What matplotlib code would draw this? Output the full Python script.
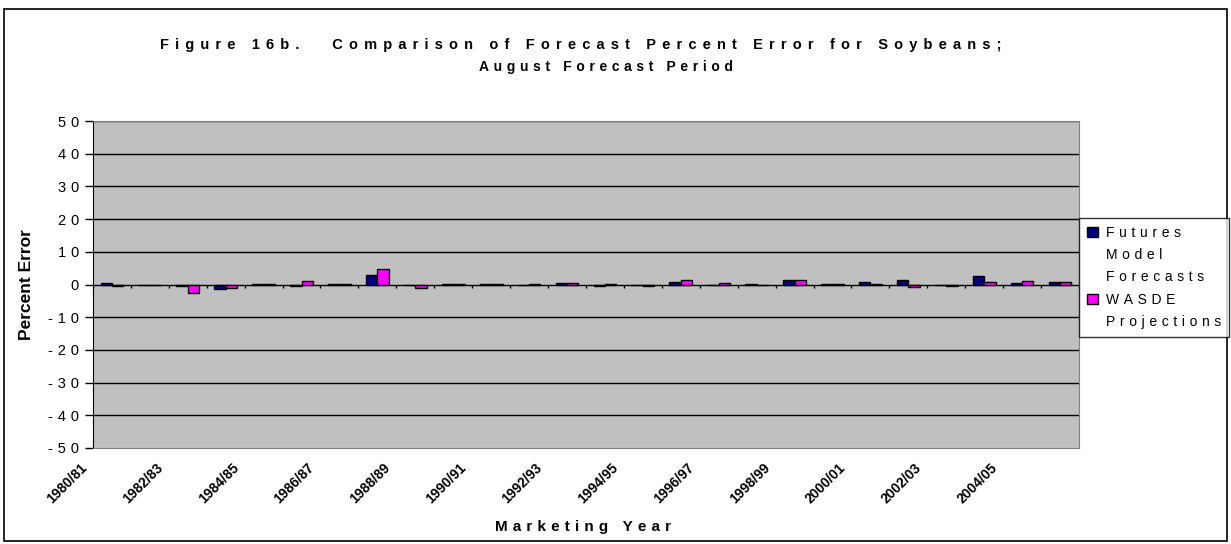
import matplotlib.pyplot as plt
from matplotlib.patches import Rectangle, Patch
from matplotlib.transforms import ScaledTranslation
import numpy as np

plt.rcParams['font.family'] = ['Liberation Sans', 'DejaVu Sans']

years = ['1980/81', '1981/82', '1982/83', '1983/84', '1984/85', '1985/86', '1986/87',
         '1987/88', '1988/89', '1989/90', '1990/91', '1991/92', '1992/93', '1993/94',
         '1994/95', '1995/96', '1996/97', '1997/98', '1998/99', '1999/00', '2000/01',
         '2001/02', '2002/03', '2003/04', '2004/05', '2005/06']
futures = [0.4, -0.2, -0.5, -1.5, 0.1, -0.6, 0.2, 2.8, -0.2, 0.1, 0.1, -0.2, 0.6,
           -0.5, -0.2, 0.8, -0.3, 0.3, 1.4, 0.2, 0.7, 1.5, -0.2, 2.5, 0.6, 0.7]
wasde = [-0.6, -0.3, -2.5, -1.1, 0.1, 1.1, 0.3, 4.6, -1.0, 0.1, 0.1, 0.3, 0.6,
         0.1, -0.4, 1.3, 0.4, -0.3, 1.4, 0.3, 0.3, -0.7, -0.5, 0.9, 1.2, 0.8]
yticks = list(range(-50, 51, 10))


def spaced(s, gap='\u2004'):
    # Excel-style letter spacing
    return (gap + ' ' + gap).join(gap.join(w) for w in s.split(' '))


fig = plt.figure(figsize=(12.31, 5.44), dpi=100)
fig.patches.append(Rectangle((0.003, 0.006), 0.994, 0.978, transform=fig.transFigure,
                             fill=False, edgecolor='black', linewidth=1.2))

ax = fig.add_axes([0.0755, 0.1765, 0.801, 0.601])
ax.set_facecolor('#C0C0C0')

x = np.arange(len(years))
w = 0.30
ax.bar(x - w / 2, futures, w, color='#000080', edgecolor='black', linewidth=1, zorder=3)
ax.bar(x + w / 2, wasde, w, color='#FF00FF', edgecolor='black', linewidth=1, zorder=3)

ax.set_xlim(-0.5, len(years) - 0.5)
ax.set_ylim(-50, 50)
for v in yticks[1:]:
    ax.axhline(v, color='black', linewidth=1, zorder=1)
# category axis crosses at zero with short downward ticks
ax.vlines(np.arange(len(years) + 1) - 0.5, -1.2, 0, color='black', linewidth=1, zorder=2)

ax.set_yticks(yticks)
ax.set_yticklabels([spaced(str(v)) for v in yticks], fontsize=10.5)
ax.tick_params(axis='y', length=6, width=1, pad=4)

ax.set_xticks(x[::2])
ax.set_xticklabels(years[::2], rotation=45, ha='right', va='top',
                   rotation_mode='anchor', fontsize=10, fontweight='bold')
ax.tick_params(axis='x', length=0, pad=9)
shift = ScaledTranslation(-32 / 100, 0, fig.dpi_scale_trans)
for lab in ax.get_xticklabels():
    lab.set_transform(lab.get_transform() + shift)

for s in ['top', 'right', 'bottom']:
    ax.spines[s].set_color('#808080')
ax.spines['left'].set_color('black')

ax.set_ylabel('Percent Error', fontsize=12.5, fontweight='bold', labelpad=10)
fig.text(0.474, 0.031, spaced('Marketing Year'), fontsize=11, fontweight='bold',
         ha='center', va='center')

fig.text(0.472, 0.917,
         spaced('Figure 16b.  Comparison of Forecast Percent Error for Soybeans;', '\u2004\u200a'),
         fontsize=10.5, fontweight='bold', ha='center', va='center')
fig.text(0.492, 0.877, spaced('August Forecast Period'),
         fontsize=10, fontweight='bold', ha='center', va='center')

blank = Patch(facecolor='none', edgecolor='none')
handles = [Patch(facecolor='#000080', edgecolor='black'), blank, blank,
           Patch(facecolor='#FF00FF', edgecolor='black'), blank]
labels = [spaced('Futures'), spaced('Model'), spaced('Forecasts'),
          spaced('WASDE'), spaced('Projections')]
leg = fig.legend(handles, labels, loc='upper left', bbox_to_anchor=(0.8765, 0.599),
                 fontsize=10, frameon=True, fancybox=False, edgecolor='black',
                 handlelength=0.85, handleheight=0.75, handletextpad=0.55,
                 borderaxespad=0, borderpad=0.55, labelspacing=0.6)
leg.get_frame().set_linewidth(1)

fig.savefig('out.png', dpi=100)
